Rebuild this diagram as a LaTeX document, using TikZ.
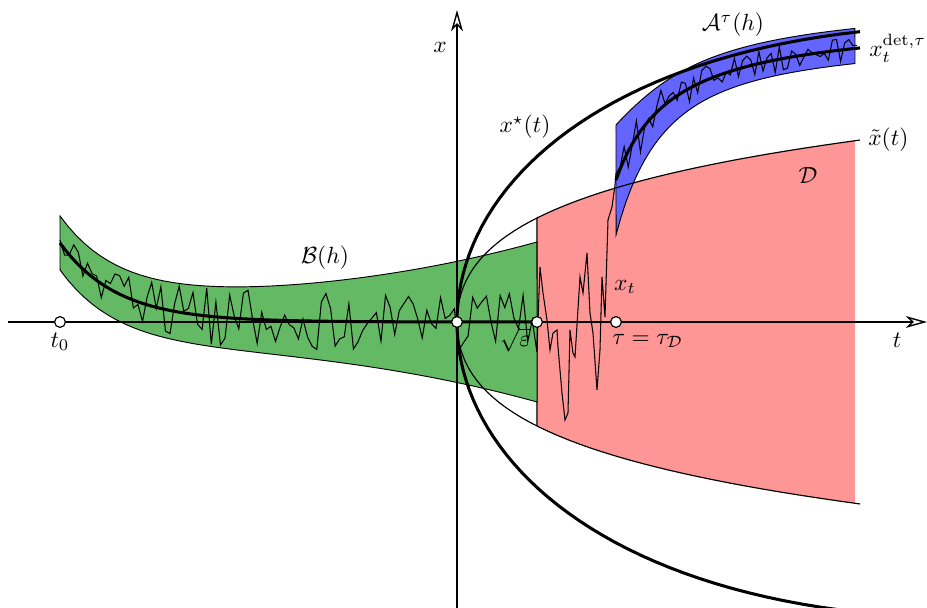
\documentclass[tikz,border=0pt]{standalone}
\usetikzlibrary{arrows.meta}
\definecolor{bgreen}{RGB}{100,186,100}
\definecolor{dpink}{RGB}{255,150,150}
\definecolor{ablue}{RGB}{100,100,255}
\tikzset{
  axis/.style={line width=0.6pt,-{Stealth[open,length=9pt,width=5pt,inset=2.5pt]}},
  dot/.style={circle,draw,fill=white,inner sep=0pt,minimum size=4.6pt,line width=0.5pt},
  bold/.style={line width=1.3pt},
  noisy/.style={line width=0.45pt},
  declare function={
    bd(\x)=0.79*exp(-1.75*(\x+3.97));
    bw(\x)=0.27+0.0105*(\x+4)^2.5;
    bn(\x)=0.3-0.18*exp(-1.5*(\x+3.97));
    xt(\s)=1.505*\s/(1+0.329*abs(\s));
    xs(\s)=\s*(1.95-0.125*\s*\s);
    ad(\x)=3.05-1.63/(1+1.75*(\x-1.59));
    aup(\x)=ad(\x)+0.2+0.35*exp(-5*(\x-1.59));
    alo(\x)=ad(\x)-0.15-0.40*exp(-2.5*(\x-1.59));
  }
}
\begin{document}
\begin{tikzpicture}[x=1.5cm,y=1.5cm]
  \useasboundingbox (-4.57,-2.86) rectangle (4.70,3.22);
  % Regioes
  \fill[dpink] plot[domain=0.8944:1.995,samples=40] ({\x*\x},{xt(\x)})
    -- plot[domain=1.995:0.8944,samples=40] ({\x*\x},{-xt(\x)}) -- cycle;
  \draw[line width=0.6pt,black!70] (0.8,{xt(0.8944)}) -- (0.8,{-xt(0.8944)});
  \filldraw[fill=bgreen,line width=0.4pt] plot[domain=-3.97:0.8,samples=60] (\x,{bd(\x)+bw(\x)})
    -- plot[domain=0.8:-3.97,samples=60] (\x,{bd(\x)-bw(\x)}) -- cycle;
  \filldraw[fill=ablue,line width=0.4pt] plot[domain=1.59:3.98,samples=50] (\x,{aup(\x)})
    -- plot[domain=3.98:1.59,samples=50] (\x,{alo(\x)}) -- cycle;
  % Curvas
  \draw[line width=0.5pt] plot[domain=-2.0075:2.0075,samples=81] ({\x*\x},{xt(\x)})
    node[right] (xtil) {$\tilde x(t)$};
  \draw[bold] plot[domain=-2.0075:2.0075,samples=81] ({\x*\x},{xs(\x)});
  % Eixos
  \draw[axis] (-4.49,0) -- (4.70,0);
  \draw[axis] (0,-2.86) -- (0,3.12);
  \node (tlab) at (4.40,-0.18) {$t$};
  \node (xlab) at (-0.17,2.75) {$x$};
  % Solucoes deterministicas
  \draw[bold] plot[domain=-3.97:0.8,samples=80] (\x,{bd(\x)});
  \draw[bold] plot[domain=1.59:4.03,samples=60] (\x,{ad(\x)})
    node[right] (xdet) {$x_t^{\mathrm{det},\tau}$};
  % Trajetoria
  \pgfmathsetseed{7}
  \draw[noisy] plot[domain=-3.97:0.8,samples=105] (\x,{bd(\x)+bn(\x)*rand})
    -- plot coordinates {
    (0.83,0.55) (0.86,0.29) (0.90,0.02) (0.93,-0.28) (0.96,-0.11) (1.00,-0.08)
    (1.01,-0.25) (1.05,-0.71) (1.08,-0.98) (1.11,-0.91) (1.13,-0.08) (1.16,-0.31)
    (1.18,-0.35) (1.23,0.45) (1.26,0.29) (1.30,0.69) (1.33,0.09) (1.36,-0.11)
    (1.40,-0.68) (1.43,-0.28) (1.45,0.45) (1.48,0.05) (1.51,1.02) (1.55,1.15) (1.58,1.37)
  } -- plot[domain=1.59:4.0,samples=60] (\x,{ad(\x)+(0.12+0.15*exp(-2*(\x-1.59)))*rand});
  % Pontos
  \node[dot] (t0) at (-3.97,0) {};
  \node[dot] (o) at (0,0) {};
  \node[dot] (eps) at (0.8,0) {};
  \node[dot] (tau) at (1.59,0) {};
  % Rotulos
  \node (t0lab) at (-3.97,-0.2) {$t_0$};
  \node (epslab) at (0.58,-0.18) {$\sqrt{\varepsilon}$};
  \node[anchor=west] (taulab) at (1.47,-0.19) {$\tau=\tau_{\mathcal D}$};
  \node (xtlab) at (1.68,0.35) {$x_t$};
  \node (blab) at (-1.32,0.64) {$\mathcal B(h)$};
  \node (xslab) at (0.68,1.95) {$x^\star(t)$};
  \node (dlab) at (3.51,1.47) {$\mathcal D$};
  \node (alab) at (2.76,2.97) {$\mathcal A^\tau(h)$};
\end{tikzpicture}
\end{document}
